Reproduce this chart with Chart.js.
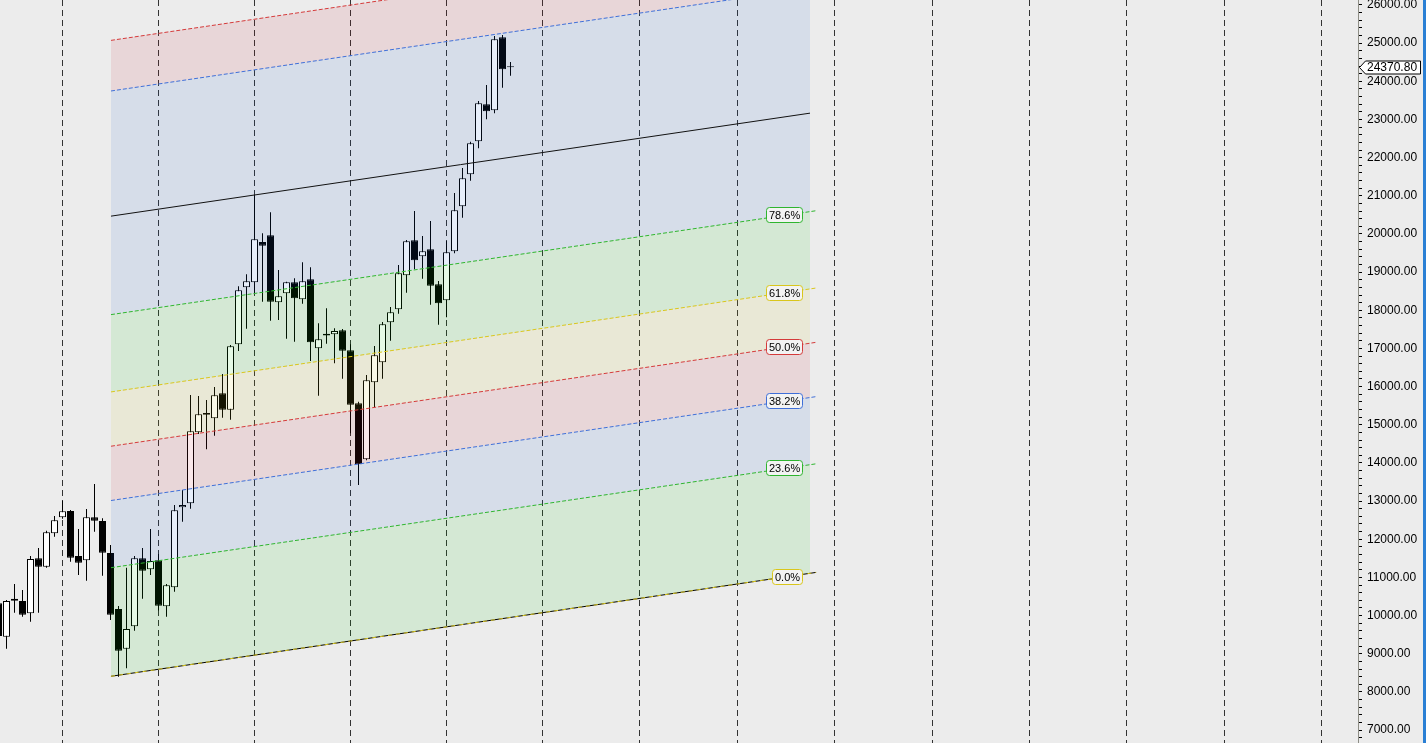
<!DOCTYPE html>
<html>
<head>
<meta charset="utf-8">
<title>Fib channel</title>
<script src="https://cdn.jsdelivr.net/npm/chart.js@4.4.1/dist/chart.umd.min.js"></script>
<style>
  html, body { margin: 0; padding: 0; background: #ececec; }
  #wrap { width: 1423px; height: 743px; border-right: 3px solid #2a7fd4; }
  canvas { display: block; }
</style>
</head>
<body>
<div id="wrap"><canvas id="myChart" width="1423" height="743"></canvas></div>
<script>
// monthly candles, index of the first one (only partly visible at the left edge)
const firstIdx = -1;
const opens = [10322, 9447, 10440, 10382, 10059, 11501, 11281, 12156, 12575, 12740, 11561, 11448, 12575, 12478, 11640,
  10172, 9132, 9719, 11501, 11213, 11448, 10242, 10741, 12837, 12942, 14803, 15310, 15169, 15825, 15395,
  17109, 18602, 18733, 19789, 19965, 18209, 18445, 18733, 18288, 18812, 17004, 17385, 17371, 17475, 16951,
  15563, 14095, 16113, 16637, 17685, 18026, 18917, 19834, 19415, 19598, 18681, 18262, 19546, 20725, 21564,
  22428, 23398, 23241, 25154, 24398];
const highs = [10380, 10408, 10827, 10670, 11561, 11771, 12224, 12609, 13010, 12767, 12268, 12793, 13448, 12549, 11850,
  10251, 11254, 11561, 11771, 12268, 11613, 10827, 12897, 13291, 15780, 15754, 15649, 15990, 16330, 17090,
  18628, 18943, 21021, 20017, 20568, 19056, 18749, 18838, 19257, 19126, 17659, 18052, 17528, 17510, 17109,
  15605, 16304, 17064, 17693, 18086, 19187, 19842, 20602, 19947, 20340, 18767, 19816, 21073, 21729, 22418,
  23484, 23904, 25188, 25214, 24506];
const lows = [9400, 9132, 10075, 9970, 9840, 10075, 11255, 12067, 12540, 11412, 11063, 10914, 12198, 11045, 9884,
  8398, 8618, 9604, 10442, 11063, 10131, 9970, 10626, 12460, 12801, 14760, 14357, 14713, 15185, 15133,
  16933, 17518, 18452, 18225, 17727, 17745, 17255, 17177, 18173, 16671, 15762, 17124, 16611, 16207, 14776,
  13422, 14070, 15458, 16207, 17203, 17911, 18461, 19074, 18828, 18146, 17622, 17816, 19493, 20426, 21396,
  22245, 23005, 23162, 23833, 24147];
const closes = [9465, 10382, 10390, 10023, 11482, 11281, 12182, 12497, 12732, 11517, 11385, 12575, 12486, 11648, 10023,
  9080, 9648, 11501, 11176, 11430, 10259, 10793, 12759, 12897, 14829, 15274, 15265, 15772, 15395, 17056,
  18524, 18760, 19860, 19692, 18225, 18367, 18733, 18314, 18760, 17161, 17240, 17340, 17457, 16941, 15526,
  13964, 16165, 16820, 17633, 17947, 18969, 19808, 19310, 19546, 18644, 18183, 19519, 20620, 21459, 22376,
  23424, 23214, 25101, 24315, 24370.8];
const lastPrice = 24370.80;

// fibonacci channel: base line at both ends and the 100% height
const channelX = [13.06, 100.44];
const channelBase = [8409, 11108];
const channelHeight = 12058;
const fibLevels = [0, 0.236, 0.382, 0.5, 0.618, 0.786, 1, 1.272, 1.382];
const fibLabels = ['0.0%', '23.6%', '38.2%', '50.0%', '61.8%', '78.6%', '', '', ''];

// axes
const yMajorTicks = [7000, 8000, 9000, 10000, 11000, 12000, 13000, 14000, 15000, 16000, 17000, 18000,
  19000, 20000, 21000, 22000, 23000, 24000, 25000, 26000];
const xGridIdx = [7, 19, 31, 43, 55, 67, 79.125, 91.375, 103.5, 115.75, 127.875, 140, 152.25, 164.375];

// styles
const GREEN = '#2fb52f', BLUE = '#3f6fd8', RED = '#d43a3a', YELLOW = '#d9c61c';
const lineColors = ['#000', GREEN, BLUE, RED, YELLOW, GREEN, '#111', BLUE, RED];
const lineDashes = [[], [4, 2], [4, 2], [4, 2], [4, 2], [4, 2], [], [4, 2], [4, 2]];
const bandColors = ['rgba(0,200,0,0.1)', 'rgba(20,90,210,0.1)', 'rgba(200,20,40,0.1)', 'rgba(210,200,20,0.1)',
  'rgba(0,200,0,0.1)', 'rgba(20,90,210,0.1)', 'rgba(20,90,210,0.1)', 'rgba(200,20,40,0.1)'];
const lineEndIdx = [101.2, 101.2, 101.2, 101.2, 101.2, 101.2, 100.44, 100.44, 100.44];
const labelRightIdx = 99.44;

function levelValue(lv, idx) {
  const t = (idx - channelX[0]) / (channelX[1] - channelX[0]);
  return channelBase[0] + (channelBase[1] - channelBase[0]) * t + lv * channelHeight;
}

const datasets = [];
// bands between levels
fibLevels.forEach((lv, k) => {
  datasets.push({
    type: 'line',
    data: channelX.map(x => ({ x, y: levelValue(lv, x) })),
    borderWidth: 0,
    pointRadius: 0,
    fill: k === 0 ? false : '-1',
    backgroundColor: k === 0 ? 'transparent' : bandColors[k - 1],
    order: 1
  });
});
// level lines
fibLevels.forEach((lv, k) => {
  datasets.push({
    type: 'line',
    data: [channelX[0], lineEndIdx[k]].map(x => ({ x, y: levelValue(lv, x) })),
    borderColor: lineColors[k],
    borderDash: lineDashes[k],
    borderWidth: 1,
    pointRadius: 0,
    fill: false,
    order: 0
  });
});
// yellow dash on top of the black base line
datasets.push({
  type: 'line',
  data: [channelX[0], lineEndIdx[0]].map(x => ({ x, y: levelValue(0, x) })),
  borderColor: YELLOW,
  borderDash: [4, 4],
  borderWidth: 1,
  pointRadius: 0,
  fill: false,
  order: -1
});
// candle bodies
datasets.push({
  type: 'bar',
  data: opens.map((o, i) => ({ x: firstIdx + i, y: [o, closes[i]] })),
  backgroundColor: ctx => closes[ctx.dataIndex] < opens[ctx.dataIndex] ? '#000' : '#fff',
  borderColor: '#000',
  borderWidth: 1,
  borderSkipped: false,
  inflateAmount: 0,
  barThickness: 7,
  grouped: false,
  order: 2
});
// wicks
datasets.push({
  type: 'bar',
  data: highs.map((h, i) => ({ x: firstIdx + i, y: [lows[i], h] })),
  backgroundColor: '#000',
  borderWidth: 0,
  inflateAmount: 0,
  barThickness: 1,
  grouped: false,
  order: 3
});

const overlay = {
  id: 'overlay',
  afterDatasetsDraw(chart) {
    const { ctx, scales: { x, y } } = chart;
    ctx.save();
    ctx.font = '11px "Liberation Sans"';
    ctx.textBaseline = 'middle';
    ctx.lineWidth = 1;
    fibLevels.forEach((lv, k) => {
      if (!fibLabels[k]) return;
      const w = Math.round(ctx.measureText(fibLabels[k]).width) + 5;
      const right = Math.round(x.getPixelForValue(labelRightIdx)) + 0.5;
      const left = right - w;
      const cy = Math.round(y.getPixelForValue(levelValue(lv, x.getValueForPixel(right - w / 2))));
      ctx.beginPath();
      ctx.roundRect(left, cy - 7.5, w, 15, 3);
      ctx.fillStyle = '#f3f3f3';
      ctx.fill();
      ctx.strokeStyle = lineColors[k] === '#000' ? YELLOW : lineColors[k];
      ctx.stroke();
      ctx.fillStyle = '#000';
      ctx.fillText(fibLabels[k], left + 2.5, cy + 0.5);
    });
    ctx.restore();
  },
  afterDraw(chart) {
    const { ctx, scales: { y } } = chart;
    const py = Math.round(y.getPixelForValue(lastPrice)) + 0.5;
    const tip = y.left + 1.5;
    const right = y.right - 2.5;
    ctx.save();
    ctx.beginPath();
    ctx.moveTo(tip, py);
    ctx.lineTo(tip + 6, py - 6.5);
    ctx.lineTo(right, py - 6.5);
    ctx.lineTo(right, py + 6.5);
    ctx.lineTo(tip + 6, py + 6.5);
    ctx.closePath();
    ctx.fillStyle = '#fff';
    ctx.fill();
    ctx.strokeStyle = '#000';
    ctx.lineWidth = 1;
    ctx.stroke();
    ctx.fillStyle = '#000';
    ctx.font = '12px "Liberation Sans"';
    ctx.textBaseline = 'middle';
    ctx.fillText(lastPrice.toFixed(2), tip + 7.5, py + 0.5);
    ctx.restore();
  }
};

Chart.defaults.font.family = '"Liberation Sans", Arial, sans-serif';

new Chart(document.getElementById('myChart').getContext('2d'), {
  type: 'bar',
  data: { datasets },
  options: {
    responsive: false,
    animation: false,
    devicePixelRatio: 1,
    layout: { padding: 0 },
    plugins: { legend: { display: false }, tooltip: { enabled: false } },
    scales: {
      x: {
        type: 'linear',
        bounds: 'data',
        min: -0.8125,
        max: -0.8125 + 1358 / 8,
        offset: false,
        grid: { offset: false, color: '#333', lineWidth: 1, drawTicks: false },
        border: { display: false, dash: [6, 4] },
        ticks: { display: false },
        afterBuildTicks: s => { s.ticks = xGridIdx.map(v => ({ value: v })); },
        afterFit: s => { s.height = 0; s.paddingLeft = 0; s.paddingRight = 0; }
      },
      y: {
        position: 'right',
        bounds: 'data',
        min: 6661,
        max: 26131,
        beginAtZero: false,
        grid: { drawOnChartArea: false, drawTicks: true, tickLength: 4, tickColor: '#000', lineWidth: 1 },
        border: { display: true, color: '#8e8e86', width: 1 },
        ticks: {
          autoSkip: false,
          padding: 5,
          color: '#000',
          font: { size: 12 },
          callback: v => yMajorTicks.includes(v) ? v.toFixed(2) : ''
        },
        afterBuildTicks: s => {
          const t = [];
          for (let v = yMajorTicks[0] - 200; v <= yMajorTicks[yMajorTicks.length - 1]; v += 200) t.push({ value: v });
          s.ticks = t;
        },
        afterFit: s => { s.width = 65; s.paddingTop = 0; s.paddingBottom = 0; }
      }
    }
  },
  plugins: [overlay]
});
</script>
</body>
</html>
